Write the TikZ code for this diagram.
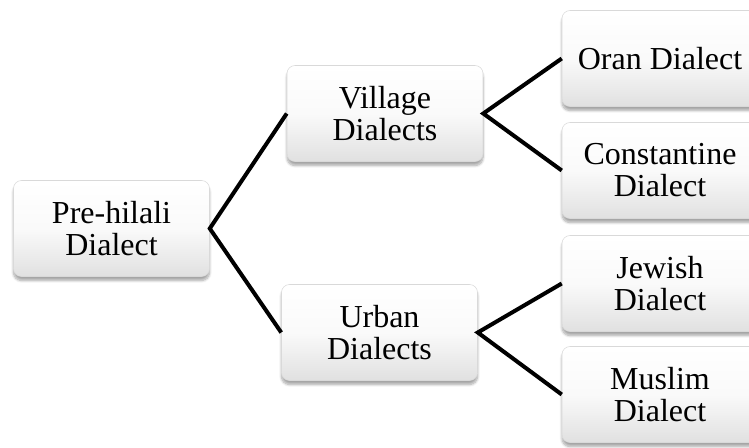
\documentclass[tikz,border=0pt]{standalone}
\usepackage{fontspec}
\setmainfont{Liberation Serif}
\usetikzlibrary{shadows.blur}
\begin{document}
\begin{tikzpicture}[x=0.75pt,y=-0.75pt,
  dialect/.style={rounded corners=6pt, minimum width=147pt, minimum height=72pt,
    inner sep=2pt, align=center, draw=gray!30, line width=0.4pt,
    top color=white, bottom color=gray!24, middle color=gray!4,
    font=\fontsize{24}{24}\selectfont,
    blur shadow={shadow xshift=0pt, shadow yshift=-3pt, shadow blur steps=8, shadow opacity=35}},
  branch/.style={line width=3pt, draw=black}]
\useasboundingbox (0,0) rectangle (749,447);
\begin{scope}
\clip (0,0) rectangle (749,447);
\node[dialect] (pre) at (111.5,228.5) {Pre-hilali\\Dialect};
\node[dialect] (village) at (385,113.5) {Village\\Dialects};
\node[dialect] (urban) at (379.5,332.5) {Urban\\Dialects};
\node[dialect] (oran) at (660,58.5) {Oran Dialect};
\node[dialect] (const) at (660,170.5) {Constantine\\Dialect};
\node[dialect] (jewish) at (660,283.5) {Jewish\\Dialect};
\node[dialect] (muslim) at (660,394.5) {Muslim\\Dialect};
\draw[branch] (village.west) -- (pre.east) -- (urban.west);
\draw[branch] (oran.west) -- (village.east) -- (const.west);
\draw[branch] (jewish.west) -- (urban.east) -- (muslim.west);
\end{scope}
\end{tikzpicture}
\end{document}
